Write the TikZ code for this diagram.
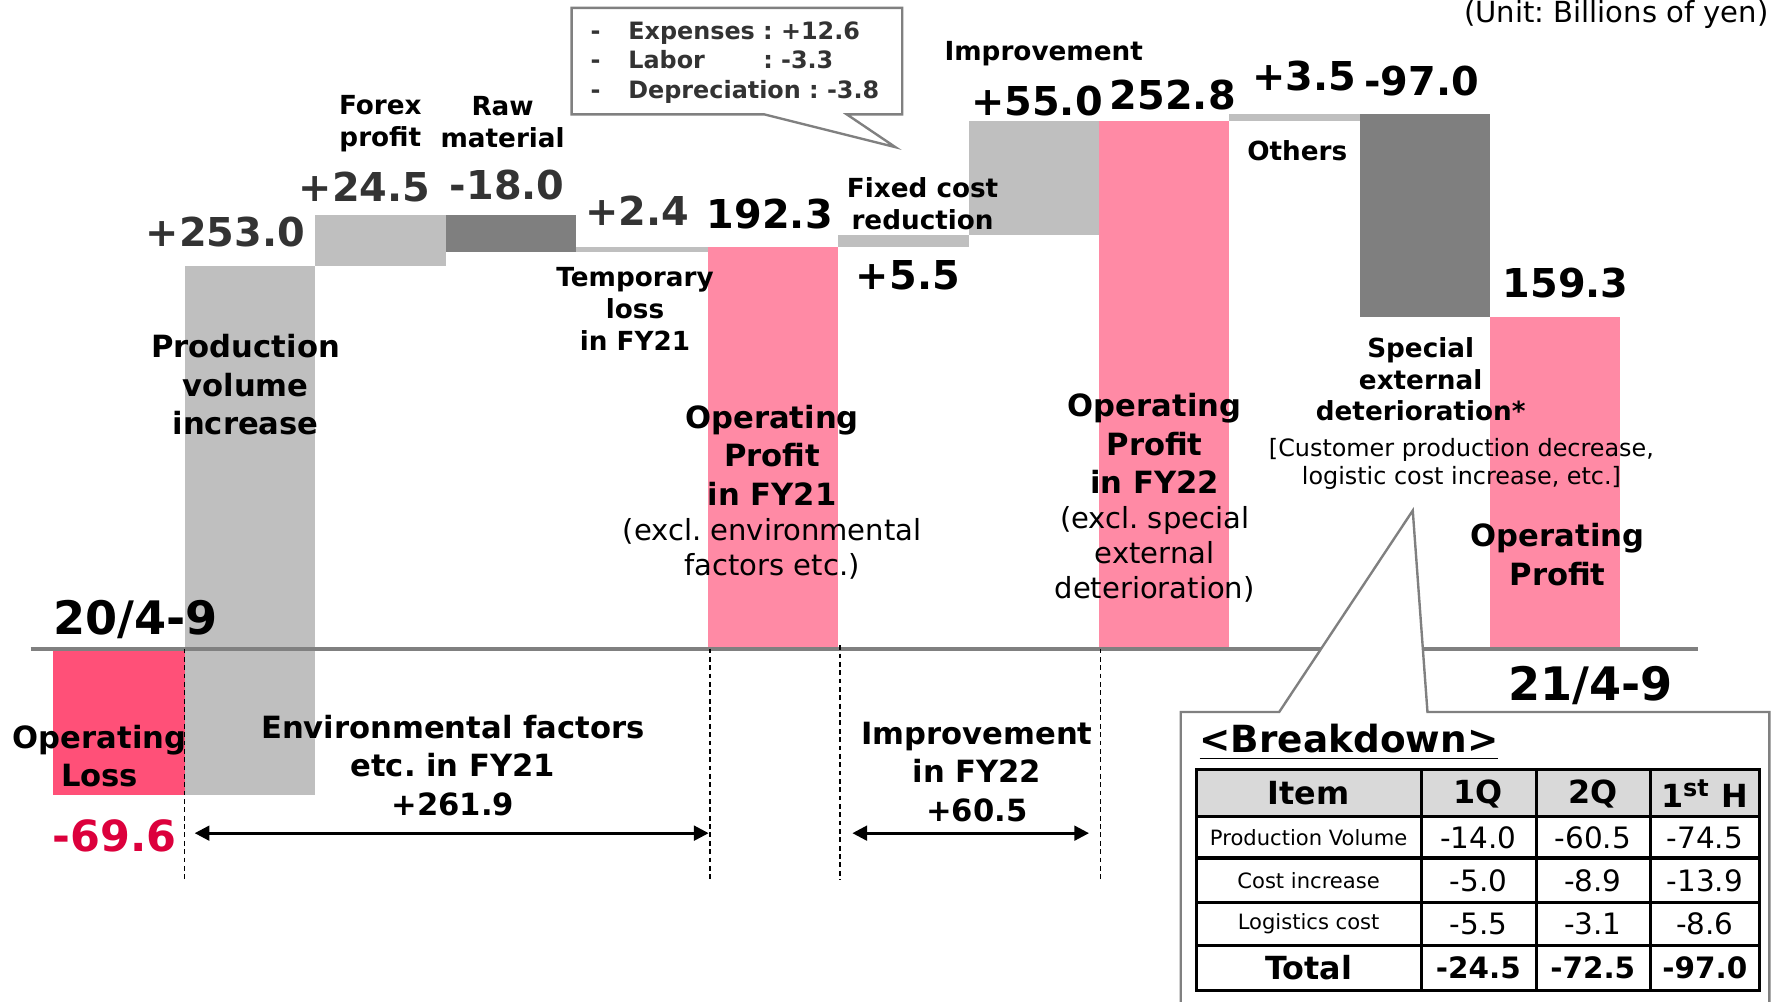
\documentclass[tikz,border=0pt]{standalone}
\usepackage{fontspec}
\setmainfont{DejaVu Sans}
\usepackage{xcolor}
\usepackage{tikz}
\usetikzlibrary{arrows.meta, positioning, calc}
\frenchspacing

\definecolor{lossred}{HTML}{FF5078}
\definecolor{profpink}{HTML}{FF8AA5}
\definecolor{lgray}{HTML}{BFBFBF}
\definecolor{dgray}{HTML}{7F7F7F}
\definecolor{numgray}{HTML}{333333}
\definecolor{minusred}{HTML}{DC003C}
\definecolor{headgray}{HTML}{D9D9D9}
\definecolor{linegray}{HTML}{808080}
\tikzstyle{dimarrow} = [line width=0.7pt, {Triangle[length=1.3mm,width=1.3mm]}-{Triangle[length=1.3mm,width=1.3mm]}]

\begin{document}
\begin{tikzpicture}[
		x=0.1mm, y=-0.1mm,
		every node/.style={inner sep=0pt},
		num/.style={font=\fontsize{10}{12}\selectfont\bfseries},
		biglbl/.style={font=\fontsize{7.7}{9.7}\selectfont\bfseries, align=center},
		smalllbl/.style={font=\fontsize{6.6}{8}\selectfont\bfseries, align=center},
		note/.style={font=\fontsize{7.3}{8.8}\selectfont, align=center},
		dashline/.style={black, line width=0.4pt, dash pattern=on 1.2pt off 0.9pt},
		callout/.style={draw=linegray, fill=white, line width=0.6pt},
		tabline/.style={black, line width=0.8pt},
		cellhead/.style={font=\fontsize{8}{10}\selectfont\bfseries},
		cellitem/.style={font=\fontsize{5.3}{6.5}\selectfont},
		cellnum/.style={font=\fontsize{7.4}{9}\selectfont}
		]
		\useasboundingbox (0,0) rectangle (1568,885);
		
		% Barras
		\fill[lossred] (47,573) rectangle (163,702);
		\fill[lgray] (163,235) rectangle (278,702);
		\fill[lgray] (278,190) rectangle (394,235);
		\fill[dgray] (394,190) rectangle (509,223);
		\fill[lgray] (509,218) rectangle (625,223);
		\fill[profpink] (625,218) rectangle (740,573);
		\fill[lgray] (740,208) rectangle (856,218);
		\fill[lgray] (856,107) rectangle (971,208);
		\fill[profpink] (971,107) rectangle (1086,573);
		\fill[lgray] (1086,101) rectangle (1201,107);
		\fill[dgray] (1201,101) rectangle (1316,280);
		\fill[profpink] (1316,280) rectangle (1431,573);
		
		% Eje
		\draw[linegray, line width=1pt] (27,573) -- (1500,573);
		
		% Lineas de referencia
		\coordinate (d1t) at (163,573); \coordinate (d1b) at (163,777);
		\coordinate (d2t) at (627,573); \coordinate (d2b) at (627,777);
		\coordinate (d3t) at (742,570); \coordinate (d3b) at (742,777);
		\coordinate (d4t) at (972,573); \coordinate (d4b) at (972,777);
		\draw[dashline] (d1t) -- (d1b);
		\draw[dashline] (d2t) -- (d2b);
		\draw[dashline] (d3t) -- (d3b);
		\draw[dashline] (d4t) -- (d4b);
		
		% Valores
		\node[num, text=numgray] (prodval) at (199,205) {+253.0};
		\node[num, text=numgray] (forexval) at (322,165) {+24.5};
		\node[num, text=numgray] (rawval) at (448,163) {-18.0};
		\node[num, text=numgray] (tempval) at (563,186) {+2.4};
		\node[num] (fy21val) at (680,189) {192.3};
		\node[num] (fixedval) at (802,243) {+5.5};
		\node[num] (imprval) at (916,89) {+55.0};
		\node[num] (fy22val) at (1036,84) {252.8};
		\node[num] (othersval) at (1152,67) {+3.5};
		\node[num] (specialval) at (1256,72) {-97.0};
		\node[num] (fy23val) at (1383,250) {159.3};
		\node[num, font=\fontsize{11.6}{13}\selectfont\bfseries] (startdate) at (120,547) {20/4-9};
		\node[num, font=\fontsize{11.6}{13}\selectfont\bfseries] (enddate) at (1405,606) {21/4-9};
		\node[num, font=\fontsize{10.8}{13}\selectfont\bfseries, text=minusred] (lossval) at (101,738) {-69.6};
		
		% Etiquetas
		\node[anchor=east, font=\fontsize{7.3}{8.8}\selectfont] (unit) at (1563,13) {(Unit: Billions of yen)};
		\node[smalllbl] (forex) at (336,109) {Forex\\profit};
		\node[smalllbl] (raw) at (444,108) {Raw\\material};
		\node[smalllbl] (temp) at (561,273) {Temporary\\loss\\in FY21};
		\node[smalllbl] (fixed) at (815,180) {Fixed cost\\reduction};
		\node[smalllbl] (impr) at (922,47) {Improvement};
		\node[smalllbl] (others) at (1146,133) {Others};
		\node[smalllbl] (special) at (1255,335) {Special\\external\\deterioration*};
		\node[biglbl] (prod) at (217,340) {Production\\volume\\increase};
		\node[biglbl] (fy21) at (682,402) {Operating\\Profit\\in FY21};
		\node[note] (fy21note) at (682,485) {(excl. environmental\\factors etc.)};
		\node[biglbl] (fy22) at (1020,392) {Operating\\Profit\\in FY22};
		\node[note] (fy22note) at (1020,490) {(excl. special\\external\\deterioration)};
		\node[note, font=\fontsize{6}{7.1}\selectfont] (specialnote) at (1291,410) {[Customer production decrease,\\logistic cost increase, etc.]};
		\node[biglbl] (fy23) at (1376,490) {Operating\\Profit};
		\node[biglbl] (loss) at (88,668) {Operating\\Loss};
		\node[biglbl] (env) at (400,676) {Environmental factors\\etc. in FY21\\+261.9};
		\node[biglbl] (imprfy22) at (863,682) {Improvement\\in FY22\\+60.5};
		
		% Flechas
		\coordinate (a1l) at (172,736); \coordinate (a1r) at (626,736);
		\coordinate (a2l) at (753,736); \coordinate (a2r) at (962,736);
		\draw[dimarrow] (a1l) -- (a1r);
		\draw[dimarrow] (a2l) -- (a2r);
		
		% Globo de costes fijos
		\draw[callout] (505,7) -- (797,7) -- (797,101) -- (748,101) -- (791,130) -- (675,101) -- (505,101) -- cycle;
		\node[anchor=west, align=left, text=numgray, font=\fontsize{6}{7.4}\selectfont\bfseries] (fixedlist) at (521,55)
		{\makebox[9.5pt][l]{-}Expenses : +12.6\\
			\makebox[9.5pt][l]{-}\rlap{Labor}\phantom{Expenses} : -3.3\\
			\makebox[9.5pt][l]{-}Depreciation : -3.8};
		
		% Desglose
		\draw[callout] (1043,885) -- (1043,629) -- (1130,629) -- (1248,451) -- (1261,629) -- (1563,629) -- (1563,885);
		\node[anchor=west, font=\fontsize{9.4}{11}\selectfont\bfseries] (bdtitle) at (1059,656) {\underline{<Breakdown>}};
		\fill[headgray] (1057,680) rectangle (1554,721);
		\draw[tabline] (1057,680) rectangle (1554,875);
		\draw[tabline] (1057,721) -- (1554,721);
		\draw[tabline] (1057,758) -- (1554,758);
		\draw[tabline] (1057,797) -- (1554,797);
		\draw[tabline] (1057,835) -- (1554,835);
		\draw[tabline] (1256,680) -- (1256,875);
		\draw[tabline] (1357,680) -- (1357,875);
		\draw[tabline] (1458,680) -- (1458,875);
		
		\node[cellhead] (hitem) at (1156,701) {Item};
		\node[cellhead] (hq1) at (1306,701) {1Q};
		\node[cellhead] (hq2) at (1407,701) {2Q};
		\node[cellhead] (hhalf) at (1506,701) {1\textsuperscript{st} H};
		
		\node[cellitem] (r1item) at (1156,740) {Production Volume};
		\node[cellnum] (r1q1) at (1306,740) {-14.0};
		\node[cellnum] (r1q2) at (1407,740) {-60.5};
		\node[cellnum] (r1half) at (1506,740) {-74.5};
		
		\node[cellitem] (r2item) at (1156,778) {Cost increase};
		\node[cellnum] (r2q1) at (1306,778) {-5.0};
		\node[cellnum] (r2q2) at (1407,778) {-8.9};
		\node[cellnum] (r2half) at (1506,778) {-13.9};
		
		\node[cellitem] (r3item) at (1156,816) {Logistics cost};
		\node[cellnum] (r3q1) at (1306,816) {-5.5};
		\node[cellnum] (r3q2) at (1407,816) {-3.1};
		\node[cellnum] (r3half) at (1506,816) {-8.6};
		
		\node[cellhead] (totitem) at (1156,855) {Total};
		\node[cellnum, font=\fontsize{7.4}{9}\selectfont\bfseries] (totq1) at (1306,855) {-24.5};
		\node[cellnum, font=\fontsize{7.4}{9}\selectfont\bfseries] (totq2) at (1407,855) {-72.5};
		\node[cellnum, font=\fontsize{7.4}{9}\selectfont\bfseries] (tothalf) at (1506,855) {-97.0};
		
	\end{tikzpicture}
\end{document}
